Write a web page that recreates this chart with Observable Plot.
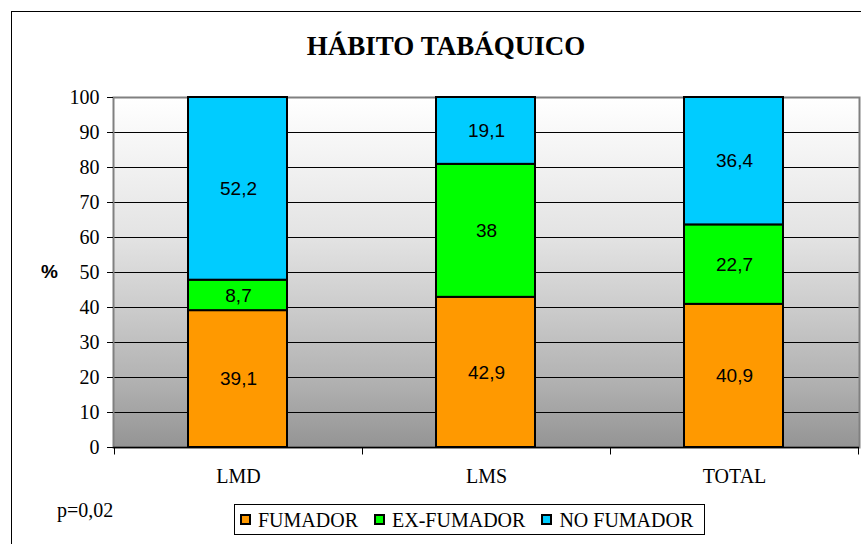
<!DOCTYPE html>
<html>
<head>
<meta charset="utf-8">
<script src="https://cdn.jsdelivr.net/npm/d3@7"></script>
<script src="https://cdn.jsdelivr.net/npm/@observablehq/plot@0.6"></script>
<style>
  html, body { margin: 0; padding: 0; background: #fff; width: 861px; height: 544px; overflow: hidden; }
  #wrap { position: relative; width: 861px; height: 544px; overflow: hidden; }
  #border { position: absolute; left: 11px; top: 11px; width: 900px; height: 600px; border: 1px solid #000; box-sizing: border-box; }
  #chart { position: absolute; left: 0; top: 0; }
  #title { position: absolute; left: 0; top: 33px; width: 892px; text-align: center; font: bold 27px/27px "Liberation Serif", "Times New Roman", serif; color: #000; }
  #ylabel { position: absolute; left: 41px; top: 262px; font: bold 19px/19px "Liberation Sans", Arial, sans-serif; color: #000; }
  #note { position: absolute; left: 57px; top: 500px; font: 20px/20px "Liberation Serif", "Times New Roman", serif; color: #000; }
  #legend { position: absolute; left: 234px; top: 504px; width: 471px; height: 31px; box-sizing: border-box; border: 1px solid #000; background: #fff; display: flex; align-items: center; padding-left: 5px; font-family: "Liberation Serif", "Times New Roman", serif; font-size: 20px; line-height: 20px; color: #000; }
  .item { display: flex; align-items: center; }
  .item + .item { margin-left: 16px; }
  .sw { width: 11px; height: 11px; box-sizing: border-box; border: 2px solid #000; margin-right: 7px; }
</style>
</head>
<body>
<div id="wrap">
  <div id="border"></div>
  <div id="chart"></div>
  <div id="title"></div>
  <div id="ylabel"></div>
  <div id="note"></div>
  <div id="legend"></div>
</div>
<script>
// ---- data ----
const title = "HÁBITO TABÁQUICO";
const yLabel = "%";
const note = "p=0,02";
const categories = ["LMD", "LMS", "TOTAL"];
const seriesNames = ["FUMADOR", "EX-FUMADOR", "NO FUMADOR"];
const seriesColors = ["#FF9900", "#00FF00", "#00CCFF"];
const fumador = [39.1, 42.9, 40.9];
const exFumador = [8.7, 38, 22.7];
const noFumador = [52.2, 19.1, 36.4];
const yTicks = [0, 10, 20, 30, 40, 50, 60, 70, 80, 90, 100];

// ---- build ----
const seriesValues = [fumador, exFumador, noFumador];
const data = categories.flatMap((c, i) =>
  seriesNames.map((s, j) => ({group: c, series: s, value: seriesValues[j][i]}))
);
const gridTicks = yTicks.filter(t => t > 0 && t < 100);
const fmt = v => String(v).replace(".", ",");

function boundaryTicks(index, scales) {
  const x = scales.x, y = scales.y;
  const step = x(categories[1]) - x(categories[0]);
  const xs = categories.map(c => x(c)).concat([x(categories[categories.length - 1]) + step]);
  const g = d3.create("svg:g");
  const y0 = Math.round(y(0)) + 0.5;
  xs.forEach(px => {
    const p = Math.round(px) + 0.5;
    g.append("line").attr("x1", p).attr("x2", p).attr("y1", y0).attr("y2", y0 + 7).attr("stroke", "#000");
  });
  return g.node();
}

const plot = Plot.plot({
  width: 861,
  height: 544,
  marginLeft: 113,
  marginRight: 2,
  marginTop: 97,
  marginBottom: 97,
  style: {fontFamily: "'Liberation Serif', 'Times New Roman', serif", fontSize: "20px", background: "transparent", color: "#000"},
  x: {domain: categories, padding: 0, label: null},
  y: {domain: [0, 100], label: null},
  color: {domain: seriesNames, range: seriesColors},
  marks: [
    Plot.frame({fill: "url(#bgGrad)", stroke: "none"}),
    Plot.ruleY(gridTicks, {stroke: "#000", strokeWidth: 1}),
    Plot.frame({stroke: "#808080", strokeWidth: 2}),
    Plot.ruleY([0], {stroke: "#000", strokeWidth: 1.5}),
    Plot.axisY({ticks: yTicks, tickSize: 6, tickPadding: 8, label: null, stroke: "#000", fill: "#000", fontVariant: "normal"}),
    Plot.axisX({tickSize: 0, tickPadding: 21, label: null, fill: "#000"}),
    boundaryTicks,
    Plot.barY(data, {x: "group", y: "value", fill: "series", stroke: "#000", strokeWidth: 2, insetLeft: 74, insetRight: 75}),
    Plot.text(data, Plot.stackY({
      x: "group", y: "value", z: "series",
      text: d => fmt(d.value),
      fontFamily: "'Liberation Sans', Arial, sans-serif",
      fontSize: 19,
      fill: "#000"
    }))
  ]
});

// gradient background for the plot area
const svg = plot.tagName.toLowerCase() === "svg" ? plot : plot.querySelector("svg");
const defs = d3.select(svg).insert("defs", ":first-child");
const grad = defs.append("linearGradient").attr("id", "bgGrad")
  .attr("x1", 0).attr("y1", 0).attr("x2", 0).attr("y2", 1);
[[0, "#ffffff"], [0.4, "#e3e3e3"], [0.6, "#cccccc"], [0.8, "#b3b3b3"], [1, "#949494"]]
  .forEach(([o, c]) => grad.append("stop").attr("offset", o).attr("stop-color", c));

document.getElementById("chart").appendChild(plot);
document.getElementById("title").textContent = title;
document.getElementById("ylabel").textContent = yLabel;
document.getElementById("note").textContent = note;

const legend = d3.select("#legend");
seriesNames.forEach((s, i) => {
  const item = legend.append("div").attr("class", "item");
  item.append("div").attr("class", "sw").style("background", seriesColors[i]);
  item.append("span").text(s);
});
</script>
</body>
</html>
